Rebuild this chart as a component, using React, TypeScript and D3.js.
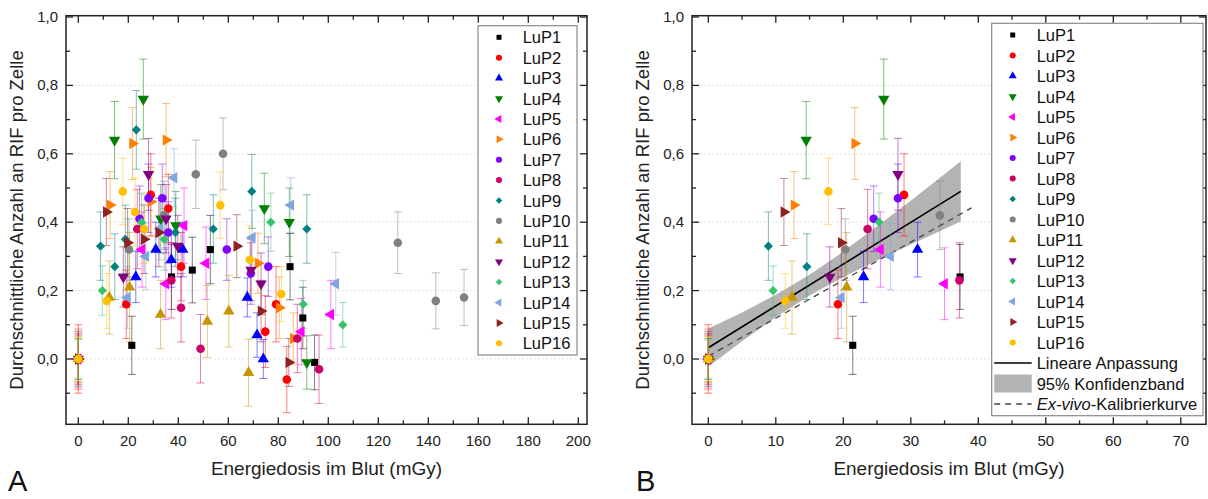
import React from "react";
import * as d3 from "d3";

// [dose (mGy), mean RIF per cell, error, part of panel B (1) or not (0)]
const LuP1 = [[21.4,0.04,0.085,1],[37.3,0.24,0.095,1],[45.6,0.26,0.096,0],[52.8,0.32,0.1,0],[84.7,0.27,0.097,0],[89.8,0.12,0.09,0],[94.5,-0.01,0.08,0]];
const LuP2 = [[0,0,0.1,1],[19.2,0.16,0.1,1],[29.0,0.48,0.12,1],[36.0,0.44,0.1,0],[41.1,0.27,0.1,0],[74.8,0.08,0.105,0],[79.1,0.16,0.11,0],[83.4,-0.06,0.097,0]];
const LuP3 = [[23.0,0.24,0.075,1],[31.0,0.32,0.08,1],[37.2,0.29,0.08,0],[41.8,0.32,0.08,0],[67.6,0.18,0.057,0],[71.5,0.07,0.065,0],[74.0,0.0,0.057,0]];
const LuP4 = [[0,0,0.08,1],[14.5,0.64,0.113,1],[26.0,0.76,0.117,1],[33.0,0.41,0.1,0],[39.0,0.39,0.1,0],[74.4,0.44,0.103,0],[84.4,0.40,0.1,0],[91.4,-0.01,0.078,0]];
const LuP5 = [[0,0,0.085,1],[25.5,0.32,0.11,1],[35.0,0.22,0.105,1],[42.3,0.39,0.11,0],[51.1,0.28,0.106,0],[89.2,0.08,0.097,0],[101.0,0.13,0.1,0]];
const LuP6 = [[0,0,0.09,1],[12.7,0.45,0.098,1],[21.7,0.63,0.105,1],[29.0,0.46,0.1,0],[35.1,0.64,0.107,0],[71.9,0.28,0.088,0],[80.4,0.15,0.09,0],[86.0,0.06,0.075,0]];
const LuP7 = [[24.5,0.41,0.096,1],[28.1,0.47,0.1,1],[33.6,0.47,0.1,0],[36.0,0.37,0.09,0],[59.4,0.32,0.09,0],[69.0,0.25,0.09,0],[76.0,0.27,0.087,0]];
const LuP8 = [[0,0,0.075,1],[23.6,0.38,0.116,1],[37.2,0.23,0.11,1],[41.1,0.15,0.1,0],[48.9,0.03,0.1,0],[87.6,0.06,0.1,0],[96.3,-0.03,0.1,0]];
const LuP9 = [[0,0,0.06,1],[8.9,0.33,0.1,1],[14.6,0.27,0.096,1],[18.8,0.35,0.1,0],[23.2,0.67,0.115,0],[38.8,0.37,0.1,0],[54.0,0.38,0.1,0],[69.4,0.49,0.108,0],[91.4,0.38,0.1,0]];
const LuP10 = [[20.3,0.32,0.09,1],[34.3,0.42,0.1,1],[47.0,0.54,0.1,0],[57.9,0.60,0.105,0],[127.8,0.34,0.09,0],[143.0,0.17,0.082,0],[154.3,0.18,0.082,0]];
const LuP11 = [[0,0,0.066,1],[12.4,0.18,0.107,1],[20.5,0.21,0.16,1],[32.9,0.13,0.1,0],[51.6,0.11,0.105,0],[60.2,0.14,0.105,0],[68.1,-0.04,0.098,0]];
const LuP12 = [[18.0,0.24,0.088,1],[28.1,0.54,0.105,1],[35.1,0.41,0.1,0],[39.8,0.33,0.09,0],[69.1,0.26,0.09,0],[73.1,0.22,0.09,0]];
const LuP13 = [[0,0,0.056,1],[9.6,0.20,0.072,1],[25.3,0.40,0.085,1],[34.4,0.35,0.09,0],[77.0,0.40,0.085,0],[90.0,0.16,0.07,0],[105.8,0.10,0.065,0]];
const LuP14 = [[19.7,0.18,0.09,1],[27.0,0.30,0.097,1],[32.6,0.38,0.09,0],[38.3,0.53,0.085,0],[69.6,0.355,0.08,0],[85.0,0.45,0.08,0],[103.0,0.22,0.092,0]];
const LuP15 = [[0,0,0.07,1],[11.2,0.43,0.098,1],[19.7,0.34,0.1,1],[26.3,0.35,0.1,0],[32.2,0.37,0.1,0],[63.4,0.33,0.092,0],[73.1,0.14,0.09,0],[84.2,-0.01,0.07,0]];
const LuP16 = [[0,0,0.065,1],[11.4,0.17,0.08,1],[17.8,0.49,0.097,1],[22.7,0.43,0.1,0],[26.3,0.38,0.1,0],[56.8,0.45,0.097,0],[68.6,0.29,0.1,0],[81.2,0.19,0.08,0]];

const seriesData = [LuP1, LuP2, LuP3, LuP4, LuP5, LuP6, LuP7, LuP8, LuP9, LuP10, LuP11, LuP12, LuP13, LuP14, LuP15, LuP16];
const seriesNames = ["LuP1","LuP2","LuP3","LuP4","LuP5","LuP6","LuP7","LuP8","LuP9","LuP10","LuP11","LuP12","LuP13","LuP14","LuP15","LuP16"];
const seriesColors = ["#000000","#ff0000","#0000ff","#008000","#ff00ff","#ff8000","#8000ff","#cc0066","#008080","#808080","#c89600","#800080","#33c36a","#80a6e0","#8e2323","#ffc000"];
const seriesShapes = ["square","circle","up","down","left","right","circle","circle","diamond","circle","up","down","diamond","left","right","circle"];

// Linear fit (panel B), 95% confidence band and ex-vivo calibration curve
const fitLine = [[0, 0.033],[37.4, 0.490]];
const bandDose = [0, 5, 10, 15, 20, 25, 30, 37.4];
const bandLower = [-0.023, 0.052, 0.122, 0.186, 0.240, 0.288, 0.335, 0.402];
const bandUpper = [0.089, 0.136, 0.188, 0.246, 0.314, 0.388, 0.463, 0.578];
const calibLine = [[0, 0.008],[39, 0.442]];

const yMajor = [0, 0.2, 0.4, 0.6, 0.8, 1.0];
const yMinor = [-0.1, 0.1, 0.3, 0.5, 0.7, 0.9];
const xMajorA = [0,20,40,60,80,100,120,140,160,180,200];
const xMinorA = [10,30,50,70,90,110,130,150,170,190];
const xMajorB = [0,10,20,30,40,50,60,70];
const xMinorB = [5,15,25,35,45,55,65];

const FONT = "'Liberation Sans', Arial, sans-serif";
const TOP = 15.7, BOTTOM = 424.3;
const fmt = (v: number) => d3.format(".1f")(Math.abs(v) < 1e-9 ? 0 : v).replace(".", ",");

function symbolPath(shape: string, size: number) {
  const t = shape === "square" || shape === "diamond" ? d3.symbolSquare : shape === "circle" ? d3.symbolCircle : d3.symbolTriangle;
  return d3.symbol(t, size)() as string;
}
function rot(shape: string) {
  return shape === "down" ? 180 : shape === "left" ? -90 : shape === "right" ? 90 : shape === "diamond" ? 45 : 0;
}
function sizeOf(shape: string, big: boolean) {
  const base = shape === "square" ? 50 : shape === "circle" ? 58 : shape === "diamond" ? 42 : 56;
  return big ? base : base * 0.5;
}

function Marker({ x, y, i, big }: any) {
  const sh = seriesShapes[i];
  return <path d={symbolPath(sh, sizeOf(sh, big))} transform={`translate(${x},${y}) rotate(${rot(sh)})`} fill={seriesColors[i]} />;
}

function Panel({ left, right, domain, xMajor, xMinor, onlyFit }: any) {
  const x = d3.scaleLinear().domain(domain).range([left, right]);
  const y = d3.scaleLinear().domain([(359 - TOP) / 342, (359 - BOTTOM) / 342]).range([TOP, BOTTOM]);
  const inRange = (v: number) => v >= domain[0] && v <= domain[1];
  const cap = 4;
  const area = d3.area<number>().x((d, k) => x(bandDose[k])).y0((d, k) => y(bandLower[k])).y1((d, k) => y(bandUpper[k]));
  return (
    <g>
      {yMajor.filter(v => v < 1).map(v => (
        <line key={"g" + v} x1={left} x2={right} y1={y(v)} y2={y(v)} stroke="#cfcfcf" strokeWidth={0.8} strokeDasharray="1.5,2.5" />
      ))}
      {onlyFit && <path d={area(bandDose) as string} fill="#b3b3b3" />}
      {onlyFit && <line x1={x(calibLine[0][0])} y1={y(calibLine[0][1])} x2={x(calibLine[1][0])} y2={y(calibLine[1][1])} stroke="#444" strokeWidth={1.3} strokeDasharray="6,5" />}
      {onlyFit && <line x1={x(fitLine[0][0])} y1={y(fitLine[0][1])} x2={x(fitLine[1][0])} y2={y(fitLine[1][1])} stroke="#000" strokeWidth={1.6} />}
      {seriesData.map((arr, i) => (
        <g key={i}>
          {arr.filter(d => (!onlyFit || d[3] === 1) && inRange(d[0])).map((d, k) => {
            const cx = x(d[0]), yt = y(d[1] + d[2]), yb = y(d[1] - d[2]);
            return (
              <g key={k} stroke={seriesColors[i]} strokeOpacity={0.5} strokeWidth={1}>
                <line x1={cx} x2={cx} y1={yt} y2={yb} />
                <line x1={cx - cap} x2={cx + cap} y1={yt} y2={yt} />
                <line x1={cx - cap} x2={cx + cap} y1={yb} y2={yb} />
              </g>
            );
          })}
        </g>
      ))}
      {seriesData.map((arr, i) => (
        <g key={"m" + i}>
          {arr.filter(d => (!onlyFit || d[3] === 1) && inRange(d[0])).map((d, k) => (
            <Marker key={k} x={x(d[0])} y={y(d[1])} i={i} big={true} />
          ))}
        </g>
      ))}
      <rect x={left} y={TOP} width={right - left} height={BOTTOM - TOP} fill="none" stroke="#222" strokeWidth={1.5} />
      {xMajor.map((v: number) => (
        <g key={"xm" + v}>
          <line x1={x(v)} x2={x(v)} y1={BOTTOM} y2={BOTTOM - 7} stroke="#222" strokeWidth={1.3} />
          <line x1={x(v)} x2={x(v)} y1={TOP} y2={TOP + 7} stroke="#222" strokeWidth={1.3} />
          <text x={x(v)} y={446} textAnchor="middle" fontSize={15} fontFamily={FONT} fill="#222">{v}</text>
        </g>
      ))}
      {xMinor.map((v: number) => (
        <g key={"xn" + v}>
          <line x1={x(v)} x2={x(v)} y1={BOTTOM} y2={BOTTOM - 4} stroke="#222" strokeWidth={1.3} />
          <line x1={x(v)} x2={x(v)} y1={TOP} y2={TOP + 4} stroke="#222" strokeWidth={1.3} />
        </g>
      ))}
      {yMajor.map(v => (
        <g key={"ym" + v}>
          <line x1={left} x2={left + 7} y1={y(v)} y2={y(v)} stroke="#222" strokeWidth={1.3} />
          <line x1={right} x2={right - 7} y1={y(v)} y2={y(v)} stroke="#222" strokeWidth={1.3} />
          <text x={left - 8} y={y(v) + 5} textAnchor="end" fontSize={15} fontFamily={FONT} fill="#222">{fmt(v)}</text>
        </g>
      ))}
      {yMinor.map(v => (
        <g key={"yn" + v}>
          <line x1={left} x2={left + 4} y1={y(v)} y2={y(v)} stroke="#222" strokeWidth={1.3} />
          <line x1={right} x2={right - 4} y1={y(v)} y2={y(v)} stroke="#222" strokeWidth={1.3} />
        </g>
      ))}
      <text x={(left + right) / 2} y={475} textAnchor="middle" fontSize={19} fontFamily={FONT} fill="#222">Energiedosis im Blut (mGy)</text>
      <text transform={`translate(${left - 43},${(TOP + BOTTOM) / 2}) rotate(-90)`} textAnchor="middle" fontSize={18.5} fontFamily={FONT} fill="#222">Durchschnittliche Anzahl an RIF pro Zelle</text>
    </g>
  );
}

function Legend({ x0, y0, w, h, mx, tx, row0, step, extra }: any) {
  return (
    <g fontFamily={FONT} fontSize={16.5} fill="#111">
      <rect x={x0} y={y0} width={w} height={h} fill="#fff" stroke="#8a8a8a" strokeWidth={1.2} />
      {seriesNames.map((n, i) => (
        <g key={n}>
          <Marker x={mx} y={row0 + i * step} i={i} big={false} />
          <text x={tx} y={row0 + i * step + 6}>{n}</text>
        </g>
      ))}
      {extra && (
        <g>
          <line x1={x0 + 2.5} x2={x0 + 40} y1={row0 + 16 * step} y2={row0 + 16 * step} stroke="#000" strokeWidth={1.6} />
          <text x={tx} y={row0 + 16 * step + 6}>Lineare Anpassung</text>
          <rect x={x0 + 2.5} y={row0 + 17 * step - 9} width={37.5} height={18} fill="#b3b3b3" />
          <text x={tx} y={row0 + 17 * step + 6}>95% Konfidenzband</text>
          <line x1={x0 + 2.5} x2={x0 + 40} y1={row0 + 18 * step} y2={row0 + 18 * step} stroke="#444" strokeWidth={1.3} strokeDasharray="6,5" />
          <text x={tx} y={row0 + 18 * step + 6}><tspan fontStyle="italic">Ex-vivo</tspan>-Kalibrierkurve</text>
        </g>
      )}
    </g>
  );
}

export default function App() {
  return (
    <svg width={1208} height={499} style={{ position: "absolute", left: 0, top: 0, background: "#fff" }}>
      <rect width={1208} height={499} fill="#fff" />
      <Panel left={66} right={587} domain={[(66 - 78.3) / 2.5, (587 - 78.3) / 2.5]} xMajor={xMajorA} xMinor={xMinorA} onlyFit={false} />
      <Panel left={692} right={1206} domain={[(692 - 708.3) / 6.75, (1206 - 708.3) / 6.75]} xMajor={xMajorB} xMinor={xMinorB} onlyFit={true} />
      <Legend x0={478} y0={25.7} w={99} h={329.3} mx={499} tx={522.7} row0={37.3} step={20.4} extra={false} />
      <Legend x0={991.7} y0={23.3} w={211.3} h={392.4} mx={1012.7} tx={1036.7} row0={35} step={20.5} extra={true} />
      <text x={8} y={491} fontSize={29} fontFamily={FONT} fill="#111">A</text>
      <text x={636} y={491} fontSize={29} fontFamily={FONT} fill="#111">B</text>
    </svg>
  );
}
